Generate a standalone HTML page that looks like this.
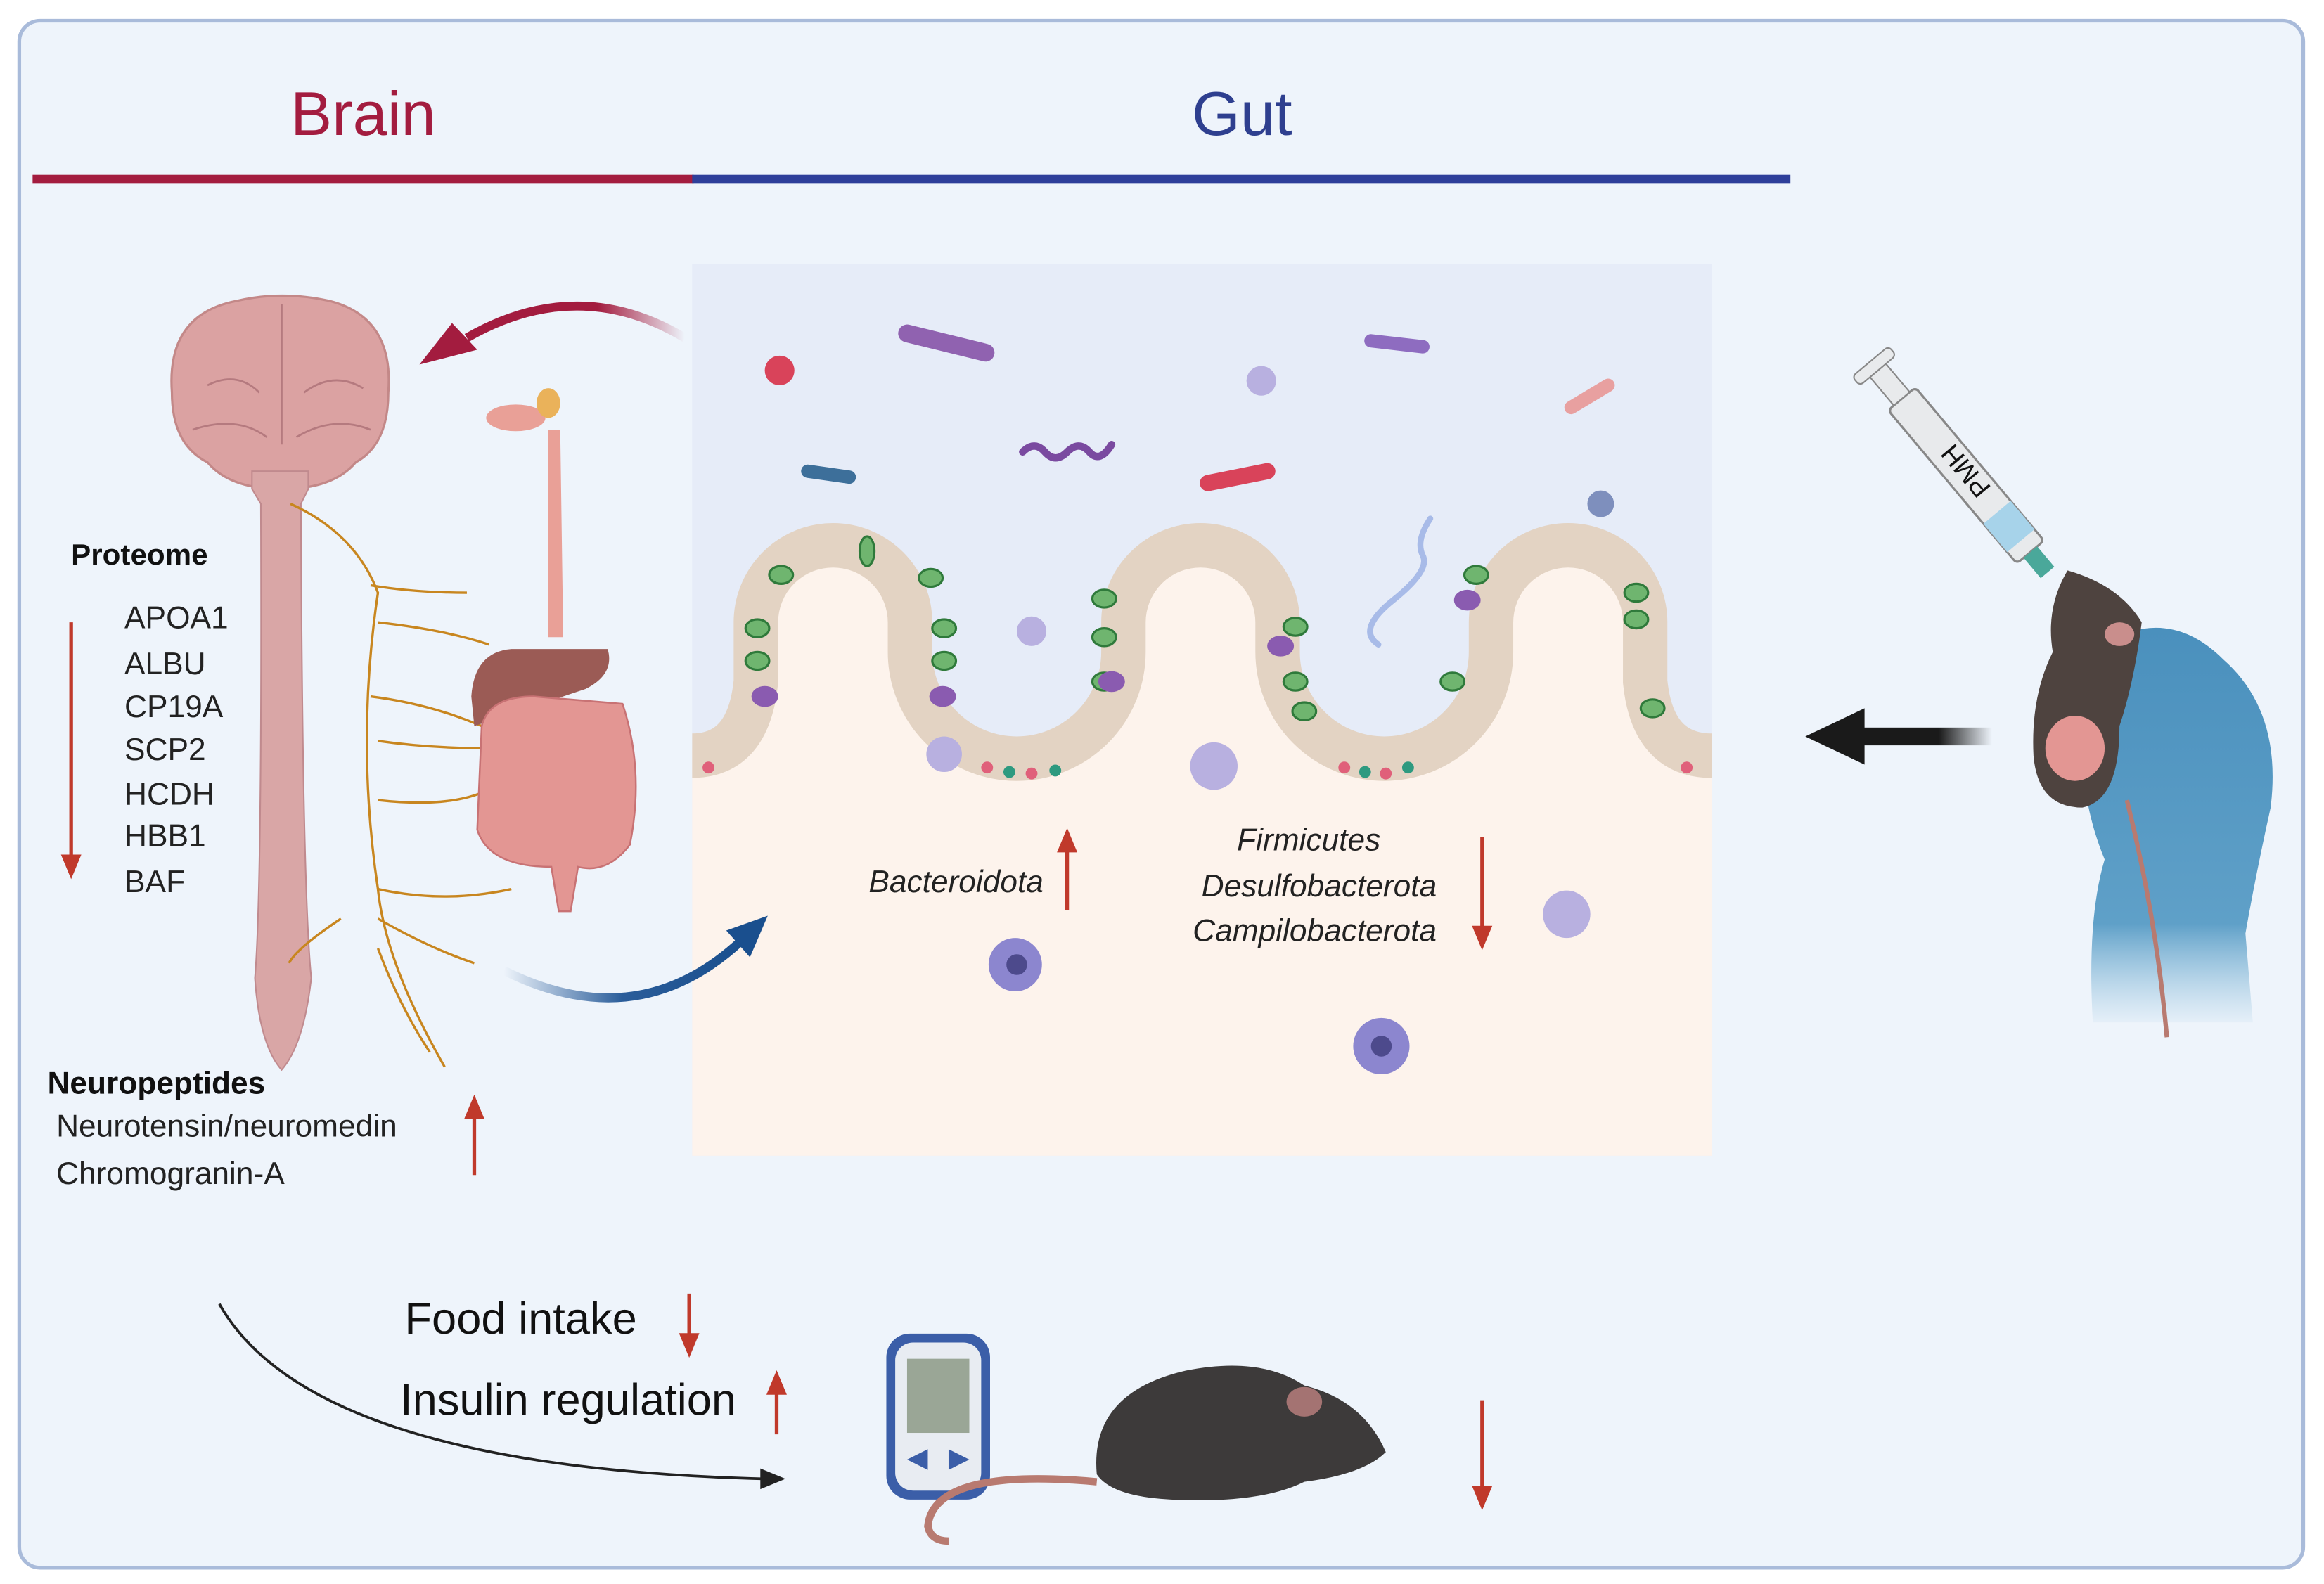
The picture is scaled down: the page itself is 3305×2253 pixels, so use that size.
<!DOCTYPE html>
<html><head><meta charset="utf-8"><style>
html,body{margin:0;padding:0;background:#fff;}
svg{display:block;}
text{font-family:"Liberation Sans",sans-serif;}
</style></head><body>
<svg width="3305" height="2253" viewBox="0 0 1568 1069" preserveAspectRatio="none" xmlns="http://www.w3.org/2000/svg">
<defs>
<linearGradient id="rg" x1="0" x2="1"><stop offset="0" stop-color="#a31c3f"/><stop offset="0.6" stop-color="#a31c3f"/><stop offset="1" stop-color="#a31c3f" stop-opacity="0"/></linearGradient>
<linearGradient id="bg" x1="0" x2="1"><stop offset="0" stop-color="#2a5d9a" stop-opacity="0"/><stop offset="0.5" stop-color="#2a5d9a"/><stop offset="1" stop-color="#1a4f8e"/></linearGradient>
<linearGradient id="kg" x1="0" x2="1"><stop offset="0" stop-color="#1a1a1a"/><stop offset="0.6" stop-color="#1a1a1a"/><stop offset="1" stop-color="#1a1a1a" stop-opacity="0"/></linearGradient>
<linearGradient id="hg" x1="0" y1="0" x2="0" y2="1"><stop offset="0" stop-color="#4a90bd"/><stop offset="0.75" stop-color="#5fa0c8"/><stop offset="1" stop-color="#8fc0dd" stop-opacity="0.1"/></linearGradient>
</defs>
<rect x="0" y="0" width="1568" height="1069" fill="#fff"/>
<rect x="13" y="14" width="1541" height="1044" rx="14" fill="#eef4fb" stroke="#a9bbda" stroke-width="2.5"/>
<text x="245" y="91" text-anchor="middle" font-size="42" fill="#a31c3f">Brain</text>
<text x="838" y="91" text-anchor="middle" font-size="42" fill="#2e3f8f">Gut</text>
<rect x="22" y="118" width="446" height="6" fill="#a31c3f"/>
<rect x="467" y="118" width="741" height="6" fill="#2e3f9a"/>

<!-- gut panel -->
<rect x="467" y="178" width="688" height="602" fill="#e6ecf8"/>
<path d="M467,505 Q505,505 510,460 L510,420 A52,52 0 0 1 614,420 L614,440 A72,72 0 0 0 758,440 L758,420 A52,52 0 0 1 862,420 L862,440 A72,72 0 0 0 1006,440 L1006,420 A52,52 0 0 1 1110,420 L1110,460 Q1115,505 1155,505 L1155,780 L467,780 Z" fill="#fdf3ec"/>
<path d="M467,510 Q505,510 510,460 L510,420 A52,52 0 0 1 614,420 L614,440 A72,72 0 0 0 758,440 L758,420 A52,52 0 0 1 862,420 L862,440 A72,72 0 0 0 1006,440 L1006,420 A52,52 0 0 1 1110,420 L1110,460 Q1115,510 1155,510" fill="none" stroke="#e3d3c3" stroke-width="30"/>
<g fill="#6fb56f" stroke="#2f7a3b" stroke-width="1.5">
<ellipse cx="585" cy="372" rx="5" ry="10"/><ellipse cx="527" cy="388" rx="8" ry="6"/><ellipse cx="628" cy="390" rx="8" ry="6"/>
<ellipse cx="511" cy="424" rx="8" ry="6"/><ellipse cx="511" cy="446" rx="8" ry="6"/><ellipse cx="637" cy="424" rx="8" ry="6"/><ellipse cx="637" cy="446" rx="8" ry="6"/>
<ellipse cx="745" cy="404" rx="8" ry="6"/><ellipse cx="745" cy="430" rx="8" ry="6"/><ellipse cx="745" cy="460" rx="8" ry="6"/>
<ellipse cx="874" cy="423" rx="8" ry="6"/><ellipse cx="874" cy="460" rx="8" ry="6"/><ellipse cx="880" cy="480" rx="8" ry="6"/>
<ellipse cx="996" cy="388" rx="8" ry="6"/><ellipse cx="980" cy="460" rx="8" ry="6"/><ellipse cx="1104" cy="400" rx="8" ry="6"/><ellipse cx="1104" cy="418" rx="8" ry="6"/><ellipse cx="1115" cy="478" rx="8" ry="6"/>
</g>
<g fill="#8a5bb0"><ellipse cx="516" cy="470" rx="9" ry="7"/><ellipse cx="636" cy="470" rx="9" ry="7"/><ellipse cx="750" cy="460" rx="9" ry="7"/><ellipse cx="864" cy="436" rx="9" ry="7"/><ellipse cx="990" cy="405" rx="9" ry="7"/></g>
<g fill="#e0607a"><circle cx="478" cy="518" r="4"/><circle cx="666" cy="518" r="4"/><circle cx="696" cy="522" r="4"/><circle cx="907" cy="518" r="4"/><circle cx="935" cy="522" r="4"/><circle cx="1138" cy="518" r="4"/></g>
<g fill="#2e9a80"><circle cx="681" cy="521" r="4"/><circle cx="712" cy="520" r="4"/><circle cx="921" cy="521" r="4"/><circle cx="950" cy="518" r="4"/></g>
<g fill="#b8b0e0"><circle cx="696" cy="426" r="10"/><circle cx="851" cy="257" r="10"/><circle cx="819" cy="517" r="16"/><circle cx="1057" cy="617" r="16"/><circle cx="637" cy="509" r="12"/></g>
<circle cx="526" cy="250" r="10" fill="#d9435a"/><circle cx="1080" cy="340" r="9" fill="#7e8fbd"/>
<g stroke-linecap="round">
<line x1="612" y1="225" x2="665" y2="238" stroke="#9062b0" stroke-width="12"/>
<line x1="925" y1="230" x2="960" y2="234" stroke="#8e6cc0" stroke-width="9"/>
<line x1="545" y1="318" x2="573" y2="322" stroke="#3d6f9a" stroke-width="9"/>
<line x1="815" y1="326" x2="855" y2="318" stroke="#d9435a" stroke-width="11"/>
<line x1="1060" y1="275" x2="1085" y2="260" stroke="#e8a0a0" stroke-width="9"/>
<path d="M690,305 q8,-8 15,0 t15,0 t15,0 t15,-5" fill="none" stroke="#7a4aa0" stroke-width="5"/>
<path d="M965,350 q-10,15 -5,25 t-20,30 t-10,30" fill="none" stroke="#a8bbe8" stroke-width="4"/>
</g>
<g fill="#8c86cf"><circle cx="685" cy="651" r="18"/><circle cx="932" cy="706" r="19"/></g>
<g fill="#4d4a8c"><circle cx="686" cy="651" r="7"/><circle cx="932" cy="706" r="7"/></g>
<text x="704" y="602" text-anchor="end" font-size="21" font-style="italic" fill="#222">Bacteroidota</text>
<text x="883" y="574" text-anchor="middle" font-size="21" font-style="italic" fill="#222">Firmicutes</text>
<text x="890" y="605" text-anchor="middle" font-size="21" font-style="italic" fill="#222">Desulfobacterota</text>
<text x="887" y="635" text-anchor="middle" font-size="21" font-style="italic" fill="#222">Campilobacterota</text>

<!-- red arrows -->
<g stroke="#c0392b" stroke-width="2.5" fill="#c0392b">
<line x1="48" y1="420" x2="48" y2="580"/><path d="M43,578 L53,578 L48,590Z"/>
<line x1="720" y1="614" x2="720" y2="572"/><path d="M715,574 L725,574 L720,562Z"/>
<line x1="1000" y1="565" x2="1000" y2="628"/><path d="M995,626 L1005,626 L1000,638Z"/>
<line x1="320" y1="793" x2="320" y2="752"/><path d="M315,754 L325,754 L320,742Z"/>
<line x1="465" y1="873" x2="465" y2="903"/><path d="M460,901 L470,901 L465,913Z"/>
<line x1="524" y1="968" x2="524" y2="938"/><path d="M519,940 L529,940 L524,928Z"/>
<line x1="1000" y1="945" x2="1000" y2="1006"/><path d="M995,1004 L1005,1004 L1000,1016Z"/>
</g>

<!-- curved arrows -->
<path d="M462,228 Q390,185 315,228" fill="none" stroke="url(#rg)" stroke-width="6"/>
<path d="M283,246 L305,218 L322,236Z" fill="#a31c3f"/>
<path d="M340,655 Q430,700 500,635" fill="none" stroke="url(#bg)" stroke-width="6"/>
<path d="M518,618 L490,628 L506,646Z" fill="#1a4f8e"/>
<rect x="1254" y="491" width="90" height="12" fill="url(#kg)"/>
<path d="M1218,497 L1258,478 L1258,516Z" fill="#1a1a1a"/>
<path d="M148,880 Q210,990 515,998" fill="none" stroke="#222" stroke-width="1.8"/>
<path d="M530,998 L513,991 L513,1005Z" fill="#222"/>

<!-- brain & spinal cord -->
<path d="M116,265 Q112,212 160,203 Q190,196 222,203 Q266,214 262,265 Q262,300 240,312 Q225,330 190,330 Q155,330 140,312 Q116,300 116,265Z" fill="#dba2a2" stroke="#c38888" stroke-width="1.5"/>
<path d="M190,205 L190,300 M140,260 Q160,250 175,265 M205,265 Q225,250 245,262 M130,290 Q160,280 180,295 M200,295 Q225,280 250,290" stroke="#b57a7f" stroke-width="1.3" fill="none"/>
<path d="M170,318 L208,318 L208,330 L203,340 Q204,600 210,660 Q205,705 190,722 Q175,705 172,660 Q177,600 176,340 L170,330Z" fill="#d9a6a6" stroke="#c08a8e" stroke-width="1"/>
<g fill="none" stroke="#c8861f" stroke-width="1.6">
<path d="M196,340 Q240,360 255,400 Q240,500 255,600 Q260,650 300,720"/>
<path d="M250,395 Q280,400 315,400"/><path d="M255,420 Q300,425 330,435"/>
<path d="M250,470 Q290,475 325,490"/><path d="M255,500 Q290,505 330,505"/>
<path d="M255,540 Q300,545 325,535"/><path d="M255,600 Q300,610 345,600"/>
<path d="M230,620 Q200,640 195,650"/><path d="M255,620 Q290,640 320,650"/><path d="M255,640 Q270,680 290,710"/>
</g>
<!-- GI -->
<path d="M370,290 L378,290 L380,430 L370,430Z" fill="#e9a097"/>
<ellipse cx="348" cy="282" rx="20" ry="9" fill="#e9a097"/>
<ellipse cx="370" cy="272" rx="8" ry="10" fill="#eab25a"/>
<path d="M318,470 Q320,440 345,438 L410,438 Q415,455 395,465 L320,490Z" fill="#9b5b55"/>
<path d="M325,490 Q330,470 360,470 L420,475 Q435,520 425,570 Q410,590 390,585 L385,615 L377,615 L372,585 Q330,585 322,560Z" fill="#e39693" stroke="#c87274" stroke-width="1.2"/>

<text x="48" y="381" font-size="20" font-weight="bold" fill="#111">Proteome</text>
<g font-size="21" fill="#222">
<text x="84" y="424">APOA1</text><text x="84" y="455">ALBU</text><text x="84" y="484">CP19A</text><text x="84" y="513">SCP2</text><text x="84" y="543">HCDH</text><text x="84" y="571">HBB1</text><text x="84" y="602">BAF</text>
</g>
<text x="32" y="738" font-size="21" font-weight="bold" fill="#111">Neuropeptides</text>
<text x="38" y="767" font-size="21" fill="#222">Neurotensin/neuromedin</text>
<text x="38" y="799" font-size="21" fill="#222">Chromogranin-A</text>
<text x="273" y="900" font-size="30" fill="#111">Food intake</text>
<text x="270" y="955" font-size="30" fill="#111">Insulin regulation</text>

<!-- glucometer -->
<rect x="598" y="900" width="70" height="112" rx="16" fill="#3b5ea8"/>
<rect x="604" y="906" width="58" height="100" rx="12" fill="#e8ecf2"/>
<rect x="612" y="917" width="42" height="50" fill="#9aa696"/>
<path d="M612,985 L626,978 L626,992Z M654,985 L640,978 L640,992Z" fill="#3b5ea8"/>
<path d="M740,1000 Q630,990 626,1030 Q628,1040 640,1040" fill="none" stroke="#b87a70" stroke-width="5"/>
<!-- black mouse -->
<path d="M740,995 Q735,940 800,925 Q850,915 880,935 Q920,945 935,980 Q920,995 880,1000 Q850,1015 790,1012 Q750,1010 740,995Z" fill="#3d3a3a"/>
<ellipse cx="880" cy="946" rx="12" ry="10" fill="#a47372"/>

<!-- syringe & hand & mouse -->
<g transform="rotate(50 1320 310)">
<rect x="1265" y="300" width="135" height="24" rx="3" fill="#e8eaec" stroke="#888" stroke-width="1.5"/>
<rect x="1365" y="300" width="25" height="24" fill="#a7d3ea"/>
<rect x="1400" y="306" width="18" height="12" fill="#4aa89a"/>
<rect x="1240" y="305" width="25" height="14" fill="#e8eaec" stroke="#888"/>
<rect x="1232" y="296" width="8" height="32" rx="3" fill="#e8eaec" stroke="#888"/>
<text x="1310" y="320" font-size="18" fill="#111" transform="rotate(180 1330 312)">PMH</text>
</g>
<path d="M1410,440 Q1460,405 1500,445 Q1540,480 1532,545 Q1522,590 1515,630 L1520,690 L1412,690 Q1408,620 1420,580 Q1395,520 1410,440Z" fill="url(#hg)"/>
<path d="M1395,385 Q1430,395 1445,420 Q1440,460 1430,490 Q1430,540 1405,545 Q1375,545 1372,510 Q1370,470 1385,440 Q1380,410 1395,385Z" fill="#4e433f"/>
<ellipse cx="1400" cy="505" rx="20" ry="22" fill="#e39693"/>
<ellipse cx="1430" cy="428" rx="10" ry="8" fill="#c98e8c"/>
<path d="M1435,540 Q1455,620 1462,700" fill="none" stroke="#b87a70" stroke-width="3"/>
</svg>
</body></html>
